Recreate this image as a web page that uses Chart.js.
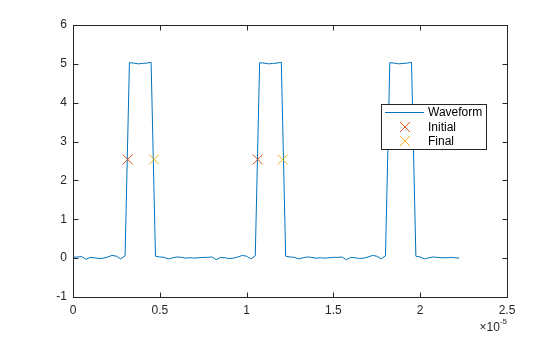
<!DOCTYPE html>
<html>
<head>
<meta charset="utf-8">
<script src="https://cdn.jsdelivr.net/npm/chart.js@4/dist/chart.umd.min.js"></script>
<style>
html,body{margin:0;padding:0;background:#fff;}
#wrap{width:560px;height:337px;position:relative;}
</style>
</head>
<body>
<div id="wrap"><canvas id="c" width="560" height="337"></canvas></div>
<script>
// Sample period (4 MHz sampling)
const samplePeriod = 0.25e-6;
// Waveform samples (volts), one per sample period
const waveform = [
  0.02, 0.03, 0.04, -0.03, 0.02, 0.01, -0.01, 0.00, 0.03, 0.07, 0.05, -0.02, 0.06,
  5.03, 5.02, 5.00, 5.01, 5.02, 5.04,
  0.05, 0.03, 0.02, -0.02, 0.01, 0.03, 0.02, 0.00, 0.01, 0.00, 0.01, 0.02, 0.02, 0.03, -0.04,
  0.02, 0.01, -0.01, 0.00, 0.03, 0.07, 0.05, -0.02, 0.06,
  5.03, 5.02, 5.00, 5.01, 5.02, 5.04,
  0.05, 0.03, 0.02, -0.02, 0.01, 0.03, 0.02, 0.00, 0.01, 0.00, 0.01, 0.02, 0.02, 0.03, -0.04,
  0.02, 0.01, -0.01, 0.00, 0.03, 0.07, 0.05, -0.02, 0.06,
  5.03, 5.02, 5.00, 5.01, 5.02, 5.04,
  0.05, 0.03, -0.02, 0.01, 0.03, 0.02, 0.01, 0.01, 0.02, 0.01, 0.00
];
// Mid-reference crossings
const initialTimes = [3.15e-6, 10.64e-6];
const finalTimes = [4.67e-6, 12.08e-6];
const crossLevel = [2.54, 2.54];
// Axis ticks
const xTicks = [0, 0.5e-5, 1e-5, 1.5e-5, 2e-5, 2.5e-5];
const yTicks = [-1, 0, 1, 2, 3, 4, 5, 6];
const seriesNames = ['Waveform', 'Initial', 'Final'];
const colors = ['#0072BD', '#D95319', '#EDB120'];

const wavePts = waveform.map((v, i) => ({x: i * samplePeriod, y: v}));
const initPts = initialTimes.map((t, i) => ({x: t, y: crossLevel[i]}));
const finalPts = finalTimes.map((t, i) => ({x: t, y: crossLevel[i]}));

const FAM = '"Liberation Sans", Arial, sans-serif';
const TXT = '#262626';

const framePlugin = {
  id: 'frame',
  afterDraw(chart) {
    const ctx = chart.ctx, a = chart.chartArea;
    const xs = chart.scales.x, ys = chart.scales.y;
    ctx.save();
    ctx.strokeStyle = TXT;
    ctx.lineWidth = 1;
    const L = Math.round(a.left) + 0.5, R = Math.round(a.right) + 0.5;
    const T = Math.round(a.top) + 0.5, B = Math.round(a.bottom) + 0.5;
    ctx.strokeRect(L, T, R - L, B - T);
    const tl = 5;
    ctx.beginPath();
    xTicks.forEach(v => {
      const px = Math.round(xs.getPixelForValue(v)) + 0.5;
      ctx.moveTo(px, B); ctx.lineTo(px, B - tl);
      ctx.moveTo(px, T); ctx.lineTo(px, T + tl);
    });
    yTicks.forEach(v => {
      const py = Math.round(ys.getPixelForValue(v)) + 0.5;
      ctx.moveTo(L, py); ctx.lineTo(L + tl, py);
      ctx.moveTo(R, py); ctx.lineTo(R - tl, py);
    });
    ctx.stroke();
    // exponent label
    ctx.fillStyle = TXT;
    ctx.textBaseline = 'alphabetic';
    ctx.textAlign = 'left';
    const sup = '-5';
    ctx.font = '8px ' + FAM;
    const supW = ctx.measureText(sup).width;
    ctx.font = '12px ' + FAM;
    const baseW = ctx.measureText('\u00d710').width;
    const x0 = Math.round(a.right) - supW - baseW;
    ctx.fillText('\u00d710', x0, 331);
    ctx.font = '8px ' + FAM;
    ctx.fillText(sup, x0 + baseW, 324);
    // legend
    const lx = 381.5, ly = 104.5, lw = 105, lh = 45;
    ctx.fillStyle = '#fff';
    ctx.fillRect(lx, ly, lw, lh);
    ctx.strokeStyle = '#262626';
    ctx.strokeRect(lx, ly, lw, lh);
    ctx.font = '12px ' + FAM;
    ctx.fillStyle = '#000';
    ctx.textBaseline = 'middle';
    const rows = [112, 127, 141];
    ctx.strokeStyle = colors[0];
    ctx.beginPath(); ctx.moveTo(385, rows[0] + 0.5); ctx.lineTo(424, rows[0] + 0.5); ctx.stroke();
    [1, 2].forEach(k => {
      ctx.strokeStyle = colors[k];
      const cx = 405, cy = rows[k], r = 5;
      ctx.beginPath();
      ctx.moveTo(cx - r, cy - r); ctx.lineTo(cx + r, cy + r);
      ctx.moveTo(cx - r, cy + r); ctx.lineTo(cx + r, cy - r);
      ctx.stroke();
    });
    seriesNames.forEach((n, k) => ctx.fillText(n, 428, rows[k] + 1));
    ctx.restore();
  }
};

new Chart(document.getElementById('c'), {
  type: 'scatter',
  data: {
    datasets: [
      {label: seriesNames[0], data: wavePts, showLine: true, borderColor: colors[0], borderWidth: 1,
       pointRadius: 0, pointHoverRadius: 0, tension: 0, order: 3},
      {label: seriesNames[1], data: initPts, showLine: false, pointStyle: 'crossRot', pointRadius: 7,
       borderColor: colors[1], backgroundColor: colors[1], pointBorderWidth: 1, order: 2},
      {label: seriesNames[2], data: finalPts, showLine: false, pointStyle: 'crossRot', pointRadius: 7,
       borderColor: colors[2], backgroundColor: colors[2], pointBorderWidth: 1, order: 1}
    ]
  },
  options: {
    responsive: false,
    animation: false,
    devicePixelRatio: 1,
    layout: {padding: {left: 0, right: 53, top: 25, bottom: 0}},
    plugins: {legend: {display: false}, tooltip: {enabled: false}},
    scales: {
      x: {
        type: 'linear', min: 0, max: 2.5e-5,
        afterBuildTicks: s => { s.ticks = xTicks.map(v => ({value: v})); },
        afterFit: s => { s.height = 40; },
        grid: {display: false, drawTicks: false},
        border: {display: false},
        ticks: {color: TXT, font: {family: FAM, size: 12}, padding: 6,
                maxRotation: 0,
                callback: v => String(Math.round(v / 1e-6) / 10)}
      },
      y: {
        type: 'linear', min: -1, max: 6,
        afterBuildTicks: s => { s.ticks = yTicks.map(v => ({value: v})); },
        afterFit: s => { s.width = 73; },
        grid: {display: false, drawTicks: false},
        border: {display: false},
        ticks: {color: TXT, font: {family: FAM, size: 12}, padding: 6}
      }
    }
  },
  plugins: [framePlugin]
});
</script>
</body>
</html>
